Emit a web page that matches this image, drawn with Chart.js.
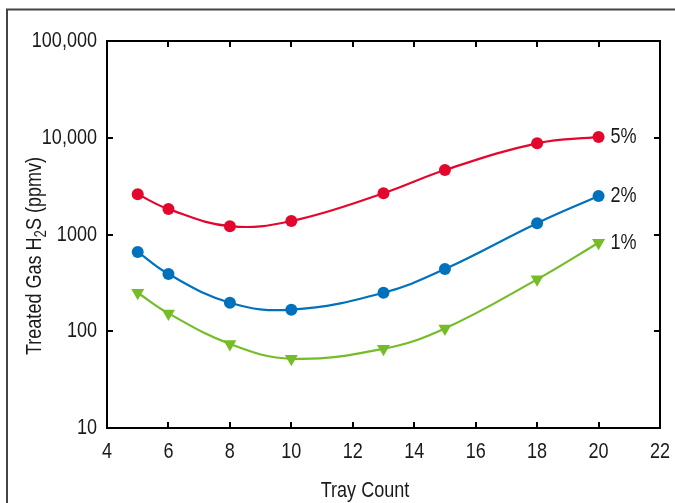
<!DOCTYPE html>
<html>
<head>
<meta charset="utf-8">
<title>Treated Gas H2S vs Tray Count</title>
<script src="https://cdn.jsdelivr.net/npm/chart.js@4/dist/chart.umd.min.js"></script>
<style>
  html, body { margin: 0; padding: 0; background: #fff; }
  canvas { display: block; }
</style>
</head>
<body>
<canvas id="c" width="675" height="503"></canvas>
<script>
// Tray counts (x) and treated-gas H2S (ppmv) for each amine concentration
const trays = [5, 6, 8, 10, 13, 15, 18, 20];
const h2s5pct = [2600, 1830, 1220, 1380, 2670, 4640, 8760, 10200];
const h2s2pct = [660, 390, 197, 167, 250, 440, 1310, 2500];
const h2s1pct = [250, 153, 74, 52, 66, 107, 344, 822];
const seriesNames = ['5%', '2%', '1%'];

// Axis ticks
const xTicks = [4, 6, 8, 10, 12, 14, 16, 18, 20, 22];
const xTickLabels = ['4', '6', '8', '10', '12', '14', '16', '18', '20', '22'];
const yTicks = [10, 100, 1000, 10000, 100000];
const yTickLabels = ['10', '100', '1000', '10,000', '100,000'];

// Condensed lettering: Liberation Sans squeezed horizontally
const FONT_FAMILY = "'Liberation Sans', Arial, sans-serif";
const FONT_SIZE = 22;
const SQUEEZE = 0.82;
const TEXT = '#1a1a1a';

const RED = '#e3062d';
const BLUE = '#0071bd';
const GREEN = '#74bd26';

function toXY(ys) { return trays.map((t, i) => ({ x: t, y: ys[i] })); }

function narrowText(ctx, str, x, y, align) {
  ctx.save();
  ctx.translate(x, y);
  ctx.scale(SQUEEZE, 1);
  ctx.font = FONT_SIZE + 'px ' + FONT_FAMILY;
  ctx.fillStyle = TEXT;
  ctx.textAlign = align;
  ctx.textBaseline = 'middle';
  ctx.fillText(str, 0, 0);
  ctx.restore();
}

// Frame, inward tick marks, tick labels, axis titles and series labels
const decorations = {
  id: 'decorations',
  beforeDatasetsDraw(chart) {
    const { ctx, chartArea: a, scales: { x, y } } = chart;
    ctx.save();
    // outer frame (left and top edges)
    ctx.strokeStyle = '#444';
    ctx.lineWidth = 2;
    ctx.beginPath();
    ctx.moveTo(7, 503);
    ctx.lineTo(7, 9.5);
    ctx.lineTo(675, 9.5);
    ctx.stroke();

    // plot box
    ctx.strokeStyle = '#000';
    ctx.lineWidth = 2;
    ctx.strokeRect(a.left, a.top, a.right - a.left, a.bottom - a.top);

    // inward ticks on all four sides
    const L = 6;
    ctx.beginPath();
    x.ticks.forEach(t => {
      const px = Math.round(x.getPixelForValue(t.value));
      ctx.moveTo(px, a.bottom); ctx.lineTo(px, a.bottom - L);
      ctx.moveTo(px, a.top); ctx.lineTo(px, a.top + L);
    });
    y.ticks.forEach(t => {
      const py = Math.round(y.getPixelForValue(t.value));
      ctx.moveTo(a.left, py); ctx.lineTo(a.left + L, py);
      ctx.moveTo(a.right, py); ctx.lineTo(a.right - L, py);
    });
    ctx.stroke();
    ctx.restore();

    // tick labels
    x.ticks.forEach((t, i) => narrowText(ctx, xTickLabels[i], x.getPixelForValue(t.value), a.bottom + 24, 'center'));
    y.ticks.forEach((t, i) => narrowText(ctx, yTickLabels[i], a.left - 10, y.getPixelForValue(t.value), 'right'));

    // x-axis title
    narrowText(ctx, 'Tray Count', 365, 491, 'center');

    // y-axis title with subscript
    ctx.save();
    const parts = [
      { t: 'Treated Gas H', size: FONT_SIZE, dy: 0 },
      { t: '2', size: Math.round(FONT_SIZE * 0.72), dy: 5 },
      { t: 'S (ppmv)', size: FONT_SIZE, dy: 0 }
    ];
    let total = 0;
    parts.forEach(p => {
      ctx.font = p.size + 'px ' + FONT_FAMILY;
      p.w = ctx.measureText(p.t).width;
      total += p.w;
    });
    ctx.translate(33, 256);
    ctx.rotate(-Math.PI / 2);
    ctx.scale(SQUEEZE, 1);
    ctx.fillStyle = TEXT;
    ctx.textAlign = 'left';
    ctx.textBaseline = 'alphabetic';
    let cx = -total / 2;
    parts.forEach(p => {
      ctx.font = p.size + 'px ' + FONT_FAMILY;
      ctx.fillText(p.t, cx, 8 + p.dy);
      cx += p.w;
    });
    ctx.restore();
  },
  afterDatasetsDraw(chart) {
    const { ctx } = chart;
    chart.data.datasets.forEach((ds, i) => {
      const pts = chart.getDatasetMeta(i).data;
      const last = pts[pts.length - 1];
      narrowText(ctx, seriesNames[i], last.x + 12, last.y, 'left');
    });
  }
};

const lineStyle = { borderWidth: 2.2, tension: 0.4, fill: false };

new Chart(document.getElementById('c'), {
  type: 'line',
  data: {
    datasets: [
      { label: seriesNames[0], data: toXY(h2s5pct), borderColor: RED, backgroundColor: RED,
        pointStyle: 'circle', pointRadius: 6, pointBorderWidth: 0, ...lineStyle },
      { label: seriesNames[1], data: toXY(h2s2pct), borderColor: BLUE, backgroundColor: BLUE,
        pointStyle: 'circle', pointRadius: 6, pointBorderWidth: 0, ...lineStyle },
      { label: seriesNames[2], data: toXY(h2s1pct), borderColor: GREEN, backgroundColor: GREEN,
        pointStyle: 'triangle', pointRotation: 180, pointRadius: 7.5, pointBorderWidth: 0, ...lineStyle }
    ]
  },
  options: {
    responsive: false,
    animation: false,
    devicePixelRatio: 1,
    layout: { padding: { top: 41, right: 15, left: 0, bottom: 0 } },
    plugins: { legend: { display: false }, tooltip: { enabled: false }, title: { display: false } },
    scales: {
      x: {
        type: 'linear', min: 4, max: 22,
        afterBuildTicks: s => { s.ticks = xTicks.map(v => ({ value: v })); },
        afterFit: s => { s.height = 75; },
        grid: { display: false, drawTicks: false },
        border: { display: false },
        ticks: { display: false }
      },
      y: {
        type: 'logarithmic', min: 10, max: 100000,
        afterBuildTicks: s => { s.ticks = yTicks.map(v => ({ value: v })); },
        afterFit: s => { s.width = 107; },
        grid: { display: false, drawTicks: false },
        border: { display: false },
        ticks: { display: false }
      }
    }
  },
  plugins: [decorations]
});
</script>
</body>
</html>
